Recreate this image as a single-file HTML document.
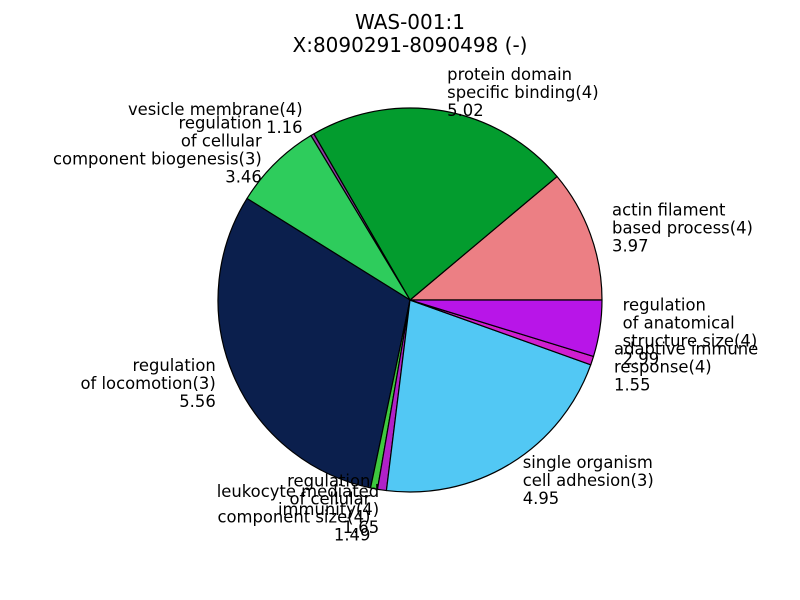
<!DOCTYPE html>
<html><head><meta charset="utf-8"><style>
body{margin:0;background:#fff}
svg{display:block}
text{font-family:"DejaVu Sans","Liberation Sans",sans-serif;font-size:16.4px;fill:#000}
</style></head><body>
<svg id="chart" width="800" height="600">
<text x="410" y="29" text-anchor="middle" style="font-size:20px">WAS-001:1</text>
<text x="410" y="52" text-anchor="middle" style="font-size:20px">X:8090291-8090498 (-)</text>
</svg>
<script>
const categories=["actin filament\nbased process(4)","protein domain\nspecific binding(4)","vesicle membrane(4)","regulation\nof cellular\ncomponent biogenesis(3)","regulation\nof locomotion(3)","regulation\nof cellular\ncomponent size(4)","leukocyte mediated\nimmunity(4)","single organism\ncell adhesion(3)","adaptive immune\nresponse(4)","regulation\nof anatomical\nstructure size(4)"];
const printedValues=["3.97","5.02","1.16","3.46","5.56","1.49","1.65","4.95","1.55","2.99"];
const sliceSizes=[40,80,1,27,110,2.1,2.7,77.3,2.6,17.1];
const colors=["#ec7f84","#039c2e","#8e3ba3","#2ecc5c","#0b1f4d","#3ec83e","#b021c8","#52c8f4","#d01ed0","#b815e8"];
const svg=document.getElementById('chart');
const NS='http://www.w3.org/2000/svg';
const cx=410,cy=300,R=192;
const total=sliceSizes.reduce((a,b)=>a+b,0);
let start=0;
sliceSizes.forEach((v,i)=>{
  const a0=start/total*2*Math.PI, a1=(start+v)/total*2*Math.PI; start+=v;
  const x0=cx+R*Math.cos(a0),y0=cy-R*Math.sin(a0),x1=cx+R*Math.cos(a1),y1=cy-R*Math.sin(a1);
  const large=(a1-a0)>Math.PI?1:0;
  const p=document.createElementNS(NS,'path');
  p.setAttribute('d',`M${cx},${cy}L${x0},${y0}A${R},${R} 0 ${large} 0 ${x1},${y1}Z`);
  p.setAttribute('fill',colors[i]);p.setAttribute('stroke','#000');p.setAttribute('stroke-width','1.2');p.setAttribute('stroke-linejoin','round');
  
  
  svg.appendChild(p);
  const am=(a0+a1)/2, right=Math.cos(am)>=0;
  const lx=cx+(right?1.12:1.1)*R*Math.cos(am), ly=cy-1.1*R*Math.sin(am);
  const lines=(categories[i]+"\n"+printedValues[i]).split("\n");
  const t=document.createElementNS(NS,'text');
  t.setAttribute('text-anchor',right?'start':'end');
  
  
  const lh=18, top=ly-(lines.length-1)*lh/2+6;
  lines.forEach((s,k)=>{const ts=document.createElementNS(NS,'tspan');ts.setAttribute('x',lx);ts.setAttribute('y',top+k*lh);ts.textContent=s;t.appendChild(ts);});
  svg.appendChild(t);
});
</script>
</body></html>
